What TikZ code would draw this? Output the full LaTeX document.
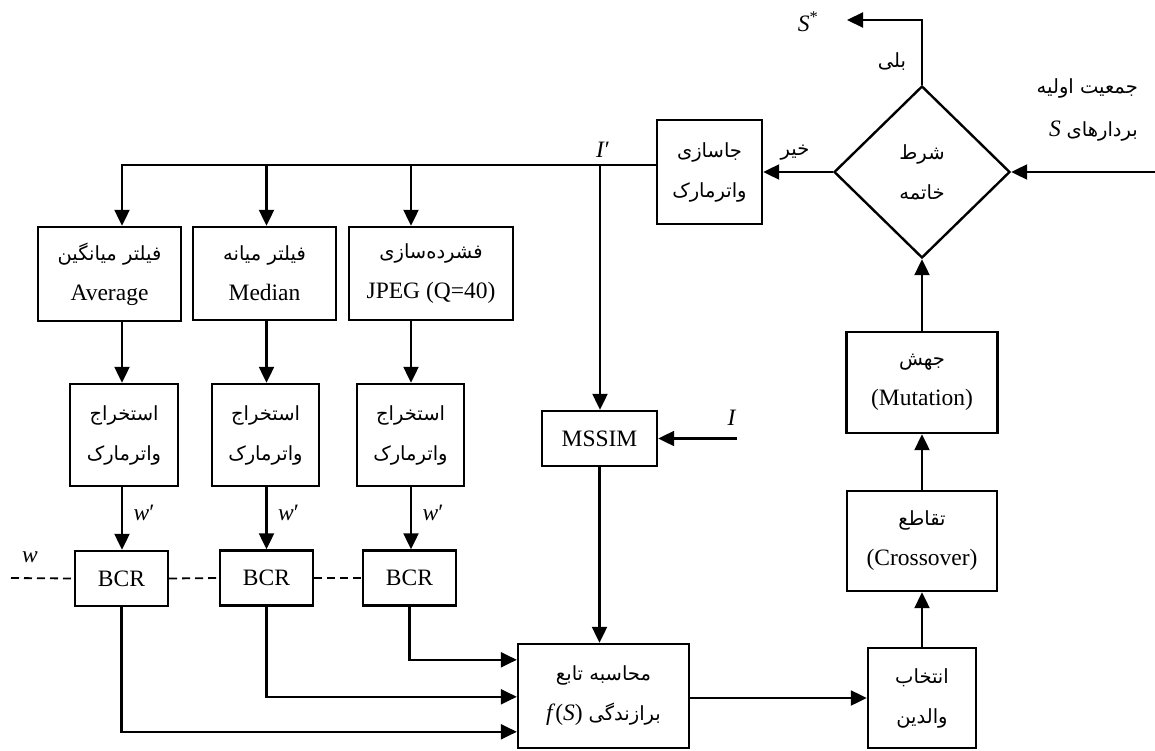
\documentclass[tikz,border=0pt]{standalone}
\usepackage{fontspec}
\setmainfont{Liberation Serif}
\newfontfamily\fafont[Script=Arabic]{DejaVu Sans}
\TeXXeTstate=1
\usetikzlibrary{shapes.geometric,arrows.meta,calc}
\newcommand\fatxt[1]{{\fafont\fontsize{19.5}{40}\selectfont\beginR #1\endR}}
\begin{document}
\begin{tikzpicture}[x=1pt,y=-1pt,
  box/.style={draw, line width=2.4pt, rectangle, inner sep=0pt, align=center, font=\fontsize{23.5}{40}\selectfont},
  conn/.style={line width=2.2pt},
  arr/.style={conn, -{Triangle[length=16pt,width=15pt]}},
  dsh/.style={line width=1.8pt, dash pattern=on 8pt off 5pt},
  lbl/.style={inner sep=0pt, font=\fontsize{23.5}{28}\selectfont}]
\useasboundingbox (0,0) rectangle (1155,751);

% nodes
\node[box, minimum width=105pt, minimum height=104pt] (jas) at (709.5,172) {\fatxt{جاسازی}\\\fatxt{واترمارک}};
\node[diamond, draw, line width=2.4pt, minimum width=176pt, minimum height=172pt, inner sep=0pt, align=center, font=\fontsize{23.5}{40}\selectfont] (cond) at (922,172) {\fatxt{شرط}\\\fatxt{خاتمه}};

\node[box, minimum width=143pt, minimum height=94pt] (f1) at (109.5,274) {\fatxt{فیلتر میانگین}\\Average};
\node[box, minimum width=143pt, minimum height=93pt] (f2) at (264.5,273.5) {\fatxt{فیلتر میانه}\\Median};
\node[box, minimum width=164pt, minimum height=93pt] (f3) at (431,273.5) {\fatxt{فشرده^^^^200cسازی}\\JPEG (Q=40)};

\node[box, minimum width=108pt, minimum height=102pt] (e1) at (124,435) {\fatxt{استخراج}\\\fatxt{واترمارک}};
\node[box, minimum width=107pt, minimum height=102pt] (e2) at (265.5,435) {\fatxt{استخراج}\\\fatxt{واترمارک}};
\node[box, minimum width=107pt, minimum height=102pt] (e3) at (410.5,435) {\fatxt{استخراج}\\\fatxt{واترمارک}};

\node[box, minimum width=93pt, minimum height=55pt] (b1) at (121.5,578.5) {BCR};
\node[box, minimum width=93pt, minimum height=55pt] (b2) at (266.5,578) {BCR};
\node[box, minimum width=93pt, minimum height=55pt] (b3) at (409.5,578) {BCR};

\node[box, minimum width=115pt, minimum height=55pt] (mssim) at (599.5,438.5) {MSSIM};
\node[box, minimum width=171pt, minimum height=104pt] (fit) at (603.5,696) {\fatxt{محاسبه تابع}\\\textit{f}(\textit{S})\ \fatxt{برازندگی}};

\node[box, minimum width=108pt, minimum height=100pt] (sel) at (922,698) {\fatxt{انتخاب}\\\fatxt{والدین}};
\node[box, minimum width=150pt, minimum height=100pt] (cross) at (922,541) {\fatxt{تقاطع}\\(Crossover)};
\node[box, minimum width=151pt, minimum height=101pt] (mut) at (922,382.5) {\fatxt{جهش}\\(Mutation)};

% helper coordinates
\coordinate (a1) at (122,0);
\coordinate (a2) at (266.5,0);
\coordinate (a3) at (411,0);
\coordinate (top) at (600,165);
\coordinate (win) at (11,578);
\coordinate (Iin) at (737,438.5);
\coordinate (sout) at (847,20);
\coordinate (popin) at (1155,172);

% labels
\node[lbl] (Iprime) at (603,150) {\textit{I}′};
\node[lbl] (Ilbl) at (732,418) {\textit{I}};
\node[lbl] (wlbl) at (30,557) {\textit{w}};
\node[lbl] (sstar) at (808,22) {\textit{S}\textsuperscript{*}};
\node[lbl] (yes) at (892,62) {\fatxt{بلی}};
\node[lbl] (no) at (795,153) {\fatxt{خیر}};
\node[lbl, anchor=east] (pop1) at (1138,88) {\fatxt{جمعیت اولیه}};
\node[lbl, anchor=east] (pop2) at (1138,131) {\textit{S}\ \fatxt{بردارهای}};

% connectors top
\draw[arr] (jas.west |- top) -| (a1 |- f1.north);
\draw[arr] (a2 |- top) -- (a2 |- f2.north);
\draw[arr] (a3 |- top) -- (a3 |- f3.north);
\draw[arr] (top) -- (top |- mssim.north);

\draw[arr] (a1 |- f1.south) -- (a1 |- e1.north);
\draw[arr] (a2 |- f2.south) -- (a2 |- e2.north);
\draw[arr] (a3 |- f3.south) -- (a3 |- e3.north);

\draw[arr] (a1 |- e1.south) -- (a1 |- b1.north);
\draw[arr] (a2 |- e2.south) -- (a2 |- b2.north);
\draw[arr] (a3 |- e3.south) -- (a3 |- b3.north);
\node[lbl] (wp1) at ($(a1 |- e1.south)+(22,26)$) {\textit{w}′};
\node[lbl] (wp2) at ($(a2 |- e2.south)+(22,26)$) {\textit{w}′};
\node[lbl] (wp3) at ($(a3 |- e3.south)+(22,26)$) {\textit{w}′};

\draw[dsh] (win) -- (b1.west);
\draw[dsh] (b1.east) -- (b2.west);
\draw[dsh] (b2.east) -- (b3.west);

\draw[arr] (b1.south) |- ($(fit.north west)+(0,89)$);
\draw[arr] (b2.south) |- ($(fit.north west)+(0,54)$);
\draw[arr] (b3.south) |- ($(fit.north west)+(0,17)$);

\draw[arr] (mssim.south) -- (mssim.south |- fit.north);
\draw[arr] (Iin) -- (mssim.east);

\draw[arr] (fit.east |- sel.west) -- (sel.west);
\draw[arr] (sel.north) -- (cross.south);
\draw[arr] (cross.north) -- (mut.south);
\draw[arr] (mut.north) -- (cond.south);
\draw[arr] (cond.west) -- (jas.east);
\draw[arr] (cond.north) |- (sout);
\draw[arr] (popin) -- (cond.east);
\end{tikzpicture}
\end{document}
